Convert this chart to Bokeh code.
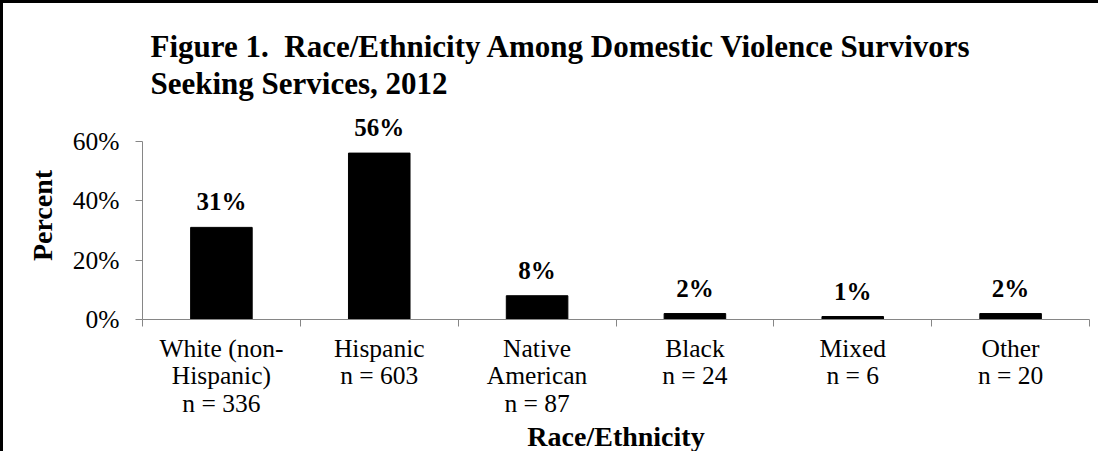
from bokeh.plotting import figure
from bokeh.models import (FixedTicker, PrintfTickFormatter, ColumnDataSource,
                          LabelSet, Range1d)
from bokeh.embed import file_html
from bokeh.resources import INLINE

# ---- data ----
categories = ["White (non-\nHispanic)", "Hispanic", "Native\nAmerican", "Black", "Mixed", "Other"]
counts = [336, 603, 87, 24, 6, 20]
percents = [31, 56, 8, 2, 1, 2]
y_ticks = [0, 20, 40, 60]
title_text = "Figure 1.\u00a0\u00a0Race/Ethnicity Among Domestic Violence Survivors\nSeeking Services, 2012"
x_label = "Race/Ethnicity"
y_label = "Percent"

positions = [i + 0.5 for i in range(len(categories))]
boundaries = list(range(len(categories) + 1))
tick_labels = {pos: f"{c}\nn = {n}" for pos, c, n in zip(positions, categories, counts)}

SERIF = "Liberation Serif"
AXIS_GRAY = "#868686"

p = figure(width=1098, height=451,
           x_range=Range1d(0, len(categories)), y_range=Range1d(0, 70),
           output_backend="svg", toolbar_location=None,
           min_border_left=139, min_border_right=12,
           min_border_top=108, min_border_bottom=134)

p.styles = {"border-top": "3px solid black", "border-left": "3px solid black"}
p.outline_line_color = None
p.xgrid.grid_line_color = None
p.ygrid.grid_line_color = None

# title
p.title.text = title_text
p.title.text_font = SERIF
p.title.text_font_size = "31px"
p.title.text_font_style = "bold"
p.title.text_color = "black"
p.title.align = "left"
p.title.vertical_align = "top"
p.title.offset = 8
p.title.standoff = 18
p.title.text_line_height = 1.06

src = ColumnDataSource(dict(x=positions, top=percents,
                            label=[f"{v}%" for v in percents]))
p.vbar(x="x", top="top", width=0.39, source=src, fill_color="black",
       line_color="black")

labels = LabelSet(x="x", y="top", text="label", source=src, y_offset=12,
                  text_align="center", text_baseline="bottom",
                  text_font=SERIF, text_font_size="25px",
                  text_font_style="bold", text_color="black")
p.add_layout(labels)

# y axis
yax = p.yaxis[0]
yax.ticker = FixedTicker(ticks=y_ticks, minor_ticks=[])
yax.formatter = PrintfTickFormatter(format="%d%%")
yax.bounds = (min(y_ticks), max(y_ticks))
yax.axis_line_color = AXIS_GRAY
yax.major_tick_line_color = AXIS_GRAY
yax.major_tick_out = 7
yax.major_tick_in = 0
yax.minor_tick_line_color = None
yax.major_label_standoff = 16
yax.major_label_text_font = SERIF
yax.major_label_text_font_size = "25.5px"
yax.major_label_text_color = "black"
yax.axis_label = y_label
yax.axis_label_text_font = SERIF
yax.axis_label_text_font_size = "28px"
yax.axis_label_text_font_style = "bold"
yax.axis_label_text_color = "black"
yax.axis_label_standoff = 12

# x axis
xax = p.xaxis[0]
xax.ticker = FixedTicker(ticks=positions, minor_ticks=boundaries)
xax.major_label_overrides = tick_labels
xax.axis_line_color = AXIS_GRAY
xax.major_tick_line_color = None
xax.major_tick_out = 0
xax.major_tick_in = 0
xax.minor_tick_line_color = AXIS_GRAY
xax.minor_tick_out = 7
xax.minor_tick_in = 0
xax.major_label_standoff = 7
xax.major_label_text_font = SERIF
xax.major_label_text_font_size = "25.5px"
xax.major_label_text_color = "black"
xax.major_label_text_line_height = 0.95
xax.axis_label = x_label
xax.axis_label_text_font = SERIF
xax.axis_label_text_font_size = "28px"
xax.axis_label_text_font_style = "bold"
xax.axis_label_text_color = "black"
xax.axis_label_standoff = 0

open("out.html", "w").write(file_html(p, INLINE))
